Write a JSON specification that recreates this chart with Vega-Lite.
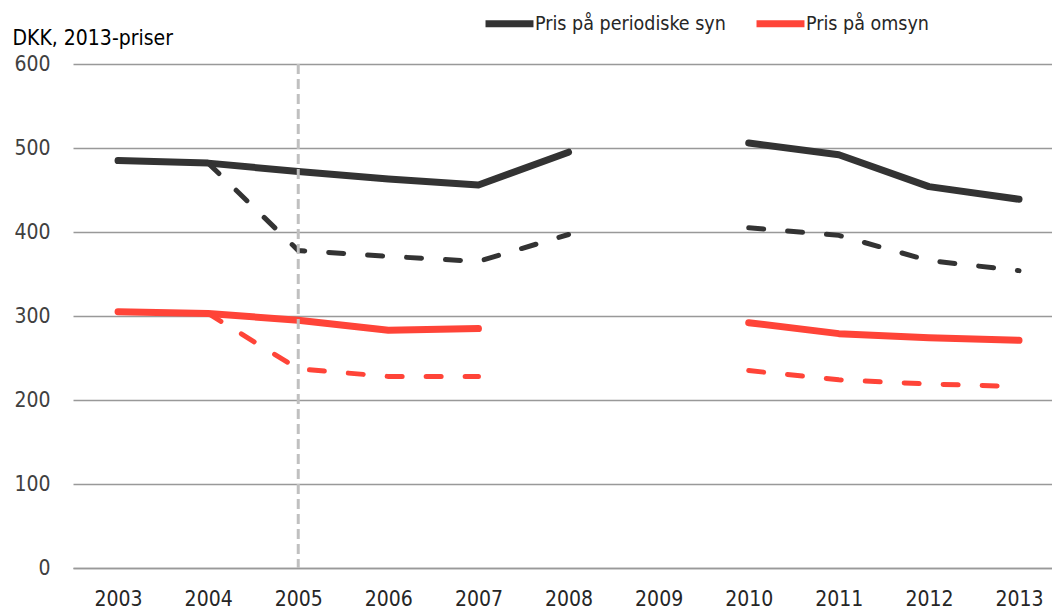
{
  "$schema": "https://vega.github.io/schema/vega-lite/v6.json",
  "width": 979,
  "height": 504,
  "autosize": {"type": "none"},
  "padding": {"left": 73, "top": 64, "right": 0, "bottom": 41},
  "background": "white",
  "config": {
    "view": {"stroke": null},
    "font": "DejaVu Sans Condensed"
  },
  "datasets": {
    "lines": [
      {"year": 2003, "series": "Pris på periodiske syn", "type": "solid", "seg": "a", "value": 485},
      {"year": 2004, "series": "Pris på periodiske syn", "type": "solid", "seg": "a", "value": 482},
      {"year": 2005, "series": "Pris på periodiske syn", "type": "solid", "seg": "a", "value": 472},
      {"year": 2006, "series": "Pris på periodiske syn", "type": "solid", "seg": "a", "value": 463},
      {"year": 2007, "series": "Pris på periodiske syn", "type": "solid", "seg": "a", "value": 456},
      {"year": 2008, "series": "Pris på periodiske syn", "type": "solid", "seg": "a", "value": 495},
      {"year": 2010, "series": "Pris på periodiske syn", "type": "solid", "seg": "b", "value": 506},
      {"year": 2011, "series": "Pris på periodiske syn", "type": "solid", "seg": "b", "value": 492},
      {"year": 2012, "series": "Pris på periodiske syn", "type": "solid", "seg": "b", "value": 454},
      {"year": 2013, "series": "Pris på periodiske syn", "type": "solid", "seg": "b", "value": 439},
      {"year": 2004, "series": "Pris på periodiske syn", "type": "dashed", "seg": "a", "value": 482},
      {"year": 2005, "series": "Pris på periodiske syn", "type": "dashed", "seg": "a", "value": 378},
      {"year": 2006, "series": "Pris på periodiske syn", "type": "dashed", "seg": "a", "value": 371},
      {"year": 2007, "series": "Pris på periodiske syn", "type": "dashed", "seg": "a", "value": 365},
      {"year": 2008, "series": "Pris på periodiske syn", "type": "dashed", "seg": "a", "value": 397},
      {"year": 2010, "series": "Pris på periodiske syn", "type": "dashed", "seg": "b", "value": 405},
      {"year": 2011, "series": "Pris på periodiske syn", "type": "dashed", "seg": "b", "value": 396},
      {"year": 2012, "series": "Pris på periodiske syn", "type": "dashed", "seg": "b", "value": 366},
      {"year": 2013, "series": "Pris på periodiske syn", "type": "dashed", "seg": "b", "value": 354},
      {"year": 2003, "series": "Pris på omsyn", "type": "solid", "seg": "a", "value": 305},
      {"year": 2004, "series": "Pris på omsyn", "type": "solid", "seg": "a", "value": 303},
      {"year": 2005, "series": "Pris på omsyn", "type": "solid", "seg": "a", "value": 295},
      {"year": 2006, "series": "Pris på omsyn", "type": "solid", "seg": "a", "value": 283},
      {"year": 2007, "series": "Pris på omsyn", "type": "solid", "seg": "a", "value": 285},
      {"year": 2010, "series": "Pris på omsyn", "type": "solid", "seg": "b", "value": 292},
      {"year": 2011, "series": "Pris på omsyn", "type": "solid", "seg": "b", "value": 279},
      {"year": 2012, "series": "Pris på omsyn", "type": "solid", "seg": "b", "value": 274},
      {"year": 2013, "series": "Pris på omsyn", "type": "solid", "seg": "b", "value": 271},
      {"year": 2004, "series": "Pris på omsyn", "type": "dashed", "seg": "a", "value": 303},
      {"year": 2005, "series": "Pris på omsyn", "type": "dashed", "seg": "a", "value": 237},
      {"year": 2006, "series": "Pris på omsyn", "type": "dashed", "seg": "a", "value": 228},
      {"year": 2007, "series": "Pris på omsyn", "type": "dashed", "seg": "a", "value": 228},
      {"year": 2010, "series": "Pris på omsyn", "type": "dashed", "seg": "b", "value": 235},
      {"year": 2011, "series": "Pris på omsyn", "type": "dashed", "seg": "b", "value": 224},
      {"year": 2012, "series": "Pris på omsyn", "type": "dashed", "seg": "b", "value": 219},
      {"year": 2013, "series": "Pris på omsyn", "type": "dashed", "seg": "b", "value": 216}
    ],
    "marker": [{"year": 2005}]
  },
  "layer": [
    {
      "data": {"name": "lines"},
      "transform": [{"filter": "datum.type === 'solid'"}],
      "mark": {"type": "line", "strokeWidth": 7, "strokeCap": "round", "strokeJoin": "round"},
      "encoding": {
        "x": {
          "field": "year", "type": "quantitative",
          "scale": {"domain": [2002.5, 2013.366], "nice": false, "zero": false},
          "axis": {
            "title": null,
            "values": [2003, 2004, 2005, 2006, 2007, 2008, 2009, 2010, 2011, 2012, 2013],
            "format": "d",
            "grid": false,
            "ticks": false,
            "domain": true,
            "domainColor": "#999999",
            "domainWidth": 1.5,
            "labelFontSize": 21,
            "labelColor": "#262626",
            "labelPadding": 20,
            "labelFlush": false
          }
        },
        "y": {
          "field": "value", "type": "quantitative",
          "scale": {"domain": [0, 600], "nice": false},
          "axis": {
            "title": "DKK, 2013-priser",
            "titleAngle": 0,
            "titleAlign": "left",
            "titleBaseline": "alphabetic",
            "titleX": -61,
            "titleY": -20,
            "titleFontSize": 21,
            "titleFontWeight": "normal",
            "titleColor": "#000000",
            "values": [0, 100, 200, 300, 400, 500, 600],
            "grid": true,
            "gridColor": "#999999",
            "gridWidth": 1.5,
            "domain": false,
            "ticks": false,
            "labelFontSize": 21,
            "labelColor": "#404040",
            "labelPadding": 23
          }
        },
        "color": {
          "field": "series", "type": "nominal",
          "scale": {"domain": ["Pris på periodiske syn", "Pris på omsyn"], "range": ["#333333", "#FF4438"]},
          "legend": {
            "title": null,
            "orient": "none",
            "direction": "horizontal",
            "legendX": 409,
            "legendY": -68,
            "symbolType": "stroke",
            "symbolSize": 2300,
            "symbolStrokeWidth": 7,
            "labelFontSize": 19.5,
            "labelColor": "#262626",
            "labelOffset": -2,
            "labelLimit": 400,
            "columnPadding": 16,
            "symbolOffset": 0
          }
        },
        "detail": {"field": "seg"}
      }
    },
    {
      "data": {"name": "lines"},
      "transform": [{"filter": "datum.type === 'dashed'"}],
      "mark": {"type": "line", "strokeWidth": 5, "strokeCap": "round", "strokeDash": [15, 24]},
      "encoding": {
        "x": {"field": "year", "type": "quantitative"},
        "y": {"field": "value", "type": "quantitative"},
        "color": {"field": "series", "type": "nominal", "legend": null},
        "detail": {"field": "seg"}
      }
    },
    {
      "data": {"name": "marker"},
      "mark": {"type": "rule", "stroke": "#C0C0C0", "strokeWidth": 3, "strokeDash": [10, 5]},
      "encoding": {
        "x": {"field": "year", "type": "quantitative"}
      }
    }
  ]
}
